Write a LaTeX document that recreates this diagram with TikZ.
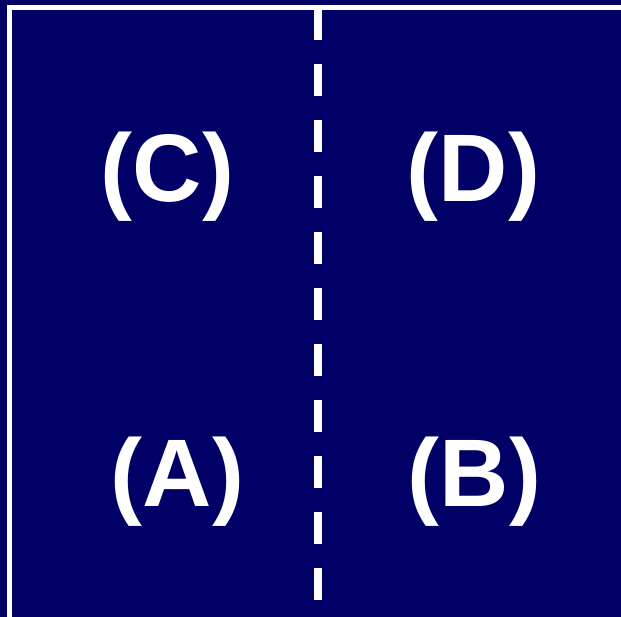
\documentclass[tikz,border=0pt]{standalone}
\usepackage{fontspec}
\setmainfont{Liberation Sans}
\definecolor{navy}{RGB}{0,0,102}
\tikzset{
  quadlabel/.style={text=white, font=\fontsize{96}{100}\selectfont\bfseries, anchor=base, inner sep=0pt},
  frameline/.style={draw=white, line width=5pt},
  divider/.style={draw=white, line width=8pt, dash pattern=on 32pt off 24pt}
}
\begin{document}
\begin{tikzpicture}[x=1pt, y=-1pt]
  % page background
  \fill[navy] (0,0) rectangle (621,617);
  \useasboundingbox (0,0) rectangle (621,617);
  % outer frame (right and bottom edges run off the page)
  \begin{scope}
    \clip (0,0) rectangle (621,617);
    \draw[frameline] (9.5,7.5) rectangle (640,640);
  \end{scope}
  % vertical divider
  \coordinate (topmid) at (317.5,8);
  \coordinate (botmid) at (317.5,617);
  \draw[divider] (topmid) -- (botmid);
  % quadrant labels
  \node[quadlabel] (C) at (167.5,202) {(C)};
  \node[quadlabel] (D) at (473.5,202) {(D)};
  \node[quadlabel] (A) at (177.5,506) {(A)};
  \node[quadlabel] (B) at (474.5,506) {(B)};
\end{tikzpicture}
\end{document}
